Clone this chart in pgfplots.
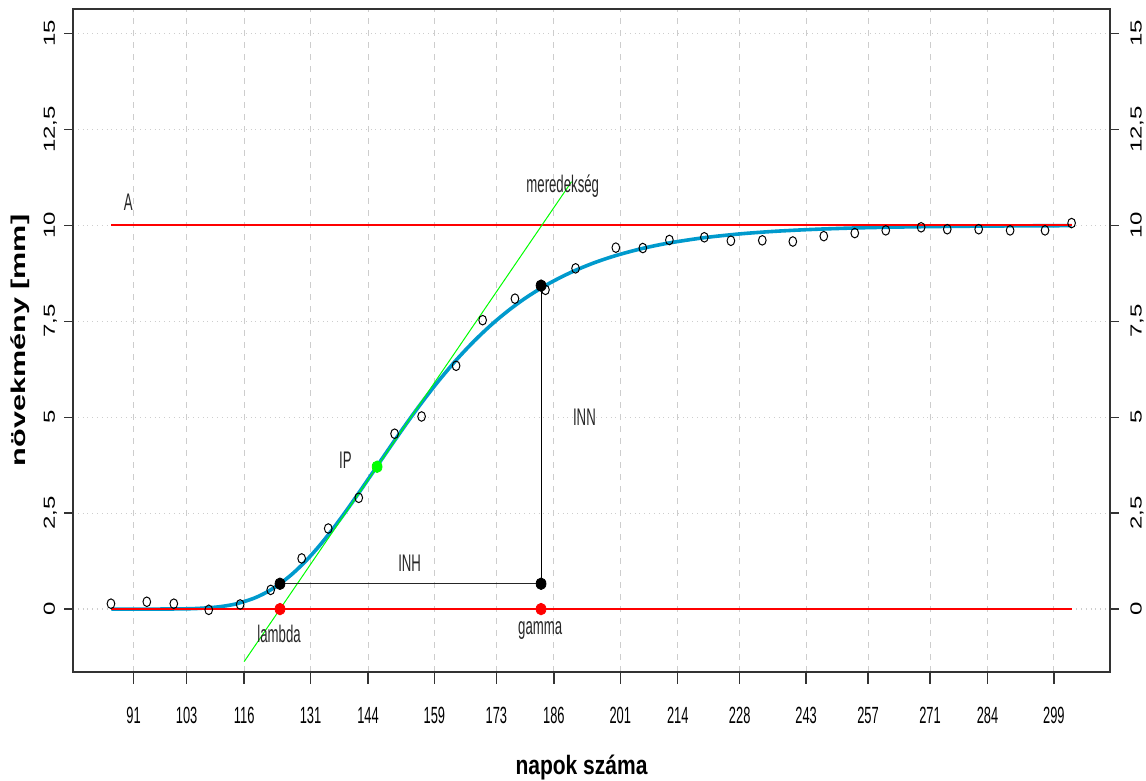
\documentclass[border=0pt]{standalone}
\usepackage{pgfplots}
\pgfplotsset{compat=1.18}
\usepackage{fontspec}
\setmainfont{Liberation Sans}
\newfontfamily\nfont[FakeStretch=0.55]{Liberation Sans}
\newfontfamily\xlfont[FakeStretch=0.79]{Liberation Sans}
\newfontfamily\wfont[FakeStretch=1.5]{Liberation Sans}
\newfontfamily\ylfont[FakeStretch=1.53]{Liberation Sans}
\definecolor{curveblue}{RGB}{0,154,205}
\definecolor{gridgray}{RGB}{205,205,205}
\definecolor{pgreen}{RGB}{0,255,0}

\pgfplotstableread{
x y
85.9 0.14
94.0 0.19
100.1 0.14
108.0 -0.02
115.1 0.12
122.0 0.50
129.0 1.32
135.0 2.10
141.9 2.90
150.0 4.57
156.1 5.02
163.9 6.34
169.9 7.53
177.2 8.09
184.1 8.32
190.9 8.88
200.0 9.42
206.1 9.41
212.1 9.62
220.0 9.69
226.0 9.60
233.1 9.61
240.0 9.58
247.0 9.72
254.0 9.80
261.0 9.87
269.0 9.95
274.9 9.90
282.0 9.90
289.1 9.87
297.0 9.87
303.0 10.06
}\obsdata

\pgfplotstableread{
x y
86 0.000
95 0.000
100 0.003
105 0.014
110 0.055
114 0.131
118 0.273
121 0.434
124 0.652
127 0.928
130 1.261
133 1.649
136 2.082
139 2.550
142 3.043
145 3.549
148 4.058
151 4.559
154 5.047
157 5.513
160 5.955
164 6.499
168 6.988
172 7.424
176 7.806
180 8.139
185 8.492
190 8.783
195 9.021
200 9.214
206 9.399
212 9.541
220 9.680
228 9.778
236 9.846
245 9.898
255 9.936
265 9.959
275 9.974
290 9.987
303 9.993
}\fitdata

\begin{document}
\begin{tikzpicture}
\useasboundingbox (-36.5pt,-54.5pt) rectangle (536.5pt,336pt);
\begin{axis}[
  at={(0,0)}, anchor=south west,
  scale only axis, width=518.5pt, height=331.5pt,
  xmin=77.32, xmax=311.68, ymin=-1.64, ymax=15.64,
  clip=false,
  axis line style={black!80, line width=0.7pt},
  xtick={91,103,116,131,144,159,173,186,201,214,228,243,257,271,284,299},
  xticklabels={91,103,116,131,144,159,173,186,201,214,228,243,257,271,284,299},
  ytick={0,2.5,5,7.5,10,12.5,15},
  yticklabels={0,{2,5},5,{7,5},10,{12,5},15},
  xtick pos=bottom, ytick pos=left,
  tick align=outside, major tick length=6pt,
  tick style={black!80, line width=0.7pt},
  ytick style={draw=none},
  xmajorgrids, ymajorgrids,
  x grid style={gridgray, dashed, line width=0.5pt},
  y grid style={gridgray, dotted, line width=0.6pt},
  xticklabel style={font=\nfont\fontsize{11.7}{14}\selectfont, anchor=base, inner sep=0pt, yshift=-19.5pt},
  yticklabel style={font=\wfont\fontsize{8}{10}\selectfont, inner sep=0pt, xshift=-3pt, rotate=90, anchor=base},
]
\addplot[only marks, mark=o, mark size=2.4pt, mark options={black, line width=0.5pt, xscale=0.8}] table[x=x,y=y] {\obsdata};
\addplot[curveblue, line width=1.8pt, smooth] table[x=x,y=y] {\fitdata};
\addplot[red, line width=1pt] coordinates {(86,10) (303,10)};
\addplot[red, line width=1pt] coordinates {(86,0) (303,0)};
\addplot[pgreen, line width=0.5pt] coordinates {(116,-1.37) (190,11.14)};
\addplot[black!85, line width=0.6pt] coordinates {(124.1,0.66) (183.1,0.66)};
\addplot[black, line width=0.5pt] coordinates {(183.1,0.66) (183.1,8.43)};
\addplot[only marks, mark=*, mark size=2.9pt, mark options={xscale=0.85}, black] coordinates {(124.1,0.66) (183.1,0.66) (183.1,8.43)};
\addplot[only marks, mark=*, mark size=2.9pt, mark options={xscale=0.85}, red] coordinates {(124.1,0) (183.1,0)};
\addplot[only marks, mark=*, mark size=2.9pt, mark options={xscale=0.85}, pgreen] coordinates {(146.05,3.71)};
\begin{scope}[every node/.style={font=\nfont\fontsize{12}{14}\selectfont, anchor=base, inner sep=0pt, text=black!85}]
\node at (axis cs:89.8,10.40) {A};
\node at (axis cs:188.0,10.85) {meredekség};
\node at (axis cs:138.9,3.66) {IP};
\node at (axis cs:153.4,0.99) {INH};
\node at (axis cs:192.9,4.79) {INN};
\node at (axis cs:123.9,-0.87) {lambda};
\node at (axis cs:182.9,-0.66) {gamma};
\end{scope}
\node[font=\xlfont\bfseries\fontsize{13.3}{15}\selectfont, anchor=base, inner sep=0pt] at ([xshift=-5pt,yshift=-51.5pt]rel axis cs:0.5,0) {napok száma};
\node[font=\ylfont\bfseries\fontsize{10}{12}\selectfont, rotate=90, anchor=base, inner sep=0pt] at ([xshift=-23.5pt]rel axis cs:0,0.5) {növekmény [mm]};
\end{axis}
\begin{axis}[
  at={(0,0)}, anchor=south west,
  scale only axis, width=518.5pt, height=331.5pt,
  xmin=77.32, xmax=311.68, ymin=-1.64, ymax=15.64,
  axis x line=none,
  axis line style={black!80, line width=0.7pt},
  ytick={0,2.5,5,7.5,10,12.5,15},
  yticklabels={0,{2,5},5,{7,5},10,{12,5},15},
  ytick pos=both, yticklabel pos=right,
  tick align=outside, major tick length=4.3pt,
  tick style={black!80, line width=0.7pt},
  yticklabel style={font=\wfont\fontsize{8}{10}\selectfont, inner sep=0pt, xshift=11.5pt, rotate=90, anchor=base},
]
\addplot[draw=none] coordinates {(100,0)};
\end{axis}
\end{tikzpicture}
\end{document}
